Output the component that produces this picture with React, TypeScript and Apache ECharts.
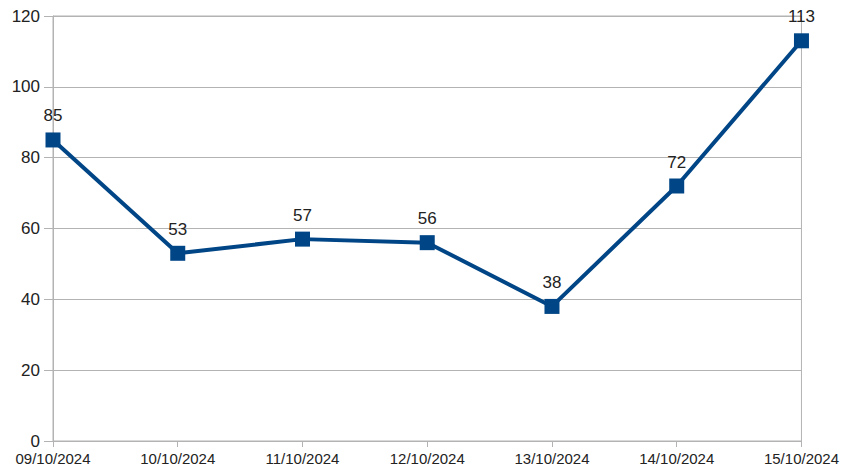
import React, { useEffect, useRef } from "react";
import * as echarts from "echarts";

const categories = ["09/10/2024", "10/10/2024", "11/10/2024", "12/10/2024", "13/10/2024", "14/10/2024", "15/10/2024"];
const values = [85, 53, 57, 56, 38, 72, 113];

export default function App() {
  const ref = useRef<HTMLDivElement>(null);
  useEffect(() => {
    document.body.style.margin = "0";
    const chart = echarts.init(ref.current!, null, { renderer: "svg" });
    chart.setOption({
      animation: false,
      backgroundColor: "#ffffff",
      textStyle: { fontFamily: "Liberation Sans" },
      grid: { left: 53, right: 40, top: 16, bottom: 30, containLabel: false, show: true, borderColor: "#b3b3b3", borderWidth: 1 },
      xAxis: {
        type: "category",
        data: categories,
        boundaryGap: false,
        axisLine: { lineStyle: { color: "#b3b3b3", width: 1 } },
        axisTick: { show: true, length: 6, alignWithLabel: true, lineStyle: { color: "#b3b3b3" } },
        axisLabel: { color: "#222", fontSize: 15, margin: 10, interval: 0 },
        splitLine: { show: false },
      },
      yAxis: {
        type: "value",
        min: 0,
        max: 120,
        interval: 20,
        axisLine: { show: true, lineStyle: { color: "#b3b3b3" } },
        axisTick: { show: true, length: 9, lineStyle: { color: "#b3b3b3" } },
        axisLabel: { color: "#222", fontSize: 17, margin: 13 },
        splitLine: { show: true, lineStyle: { color: "#b3b3b3" } },
      },
      series: [
        {
          type: "line",
          data: values,
          symbol: "rect",
          symbolSize: 15,
          lineStyle: { color: "#004586", width: 4 },
          itemStyle: { color: "#004586" },
          label: { show: true, position: "top", distance: 8, color: "#222", fontSize: 17 },
        },
      ],
    });
    return () => chart.dispose();
  }, []);
  return <div ref={ref} style={{ width: 842, height: 471 }} />;
}
